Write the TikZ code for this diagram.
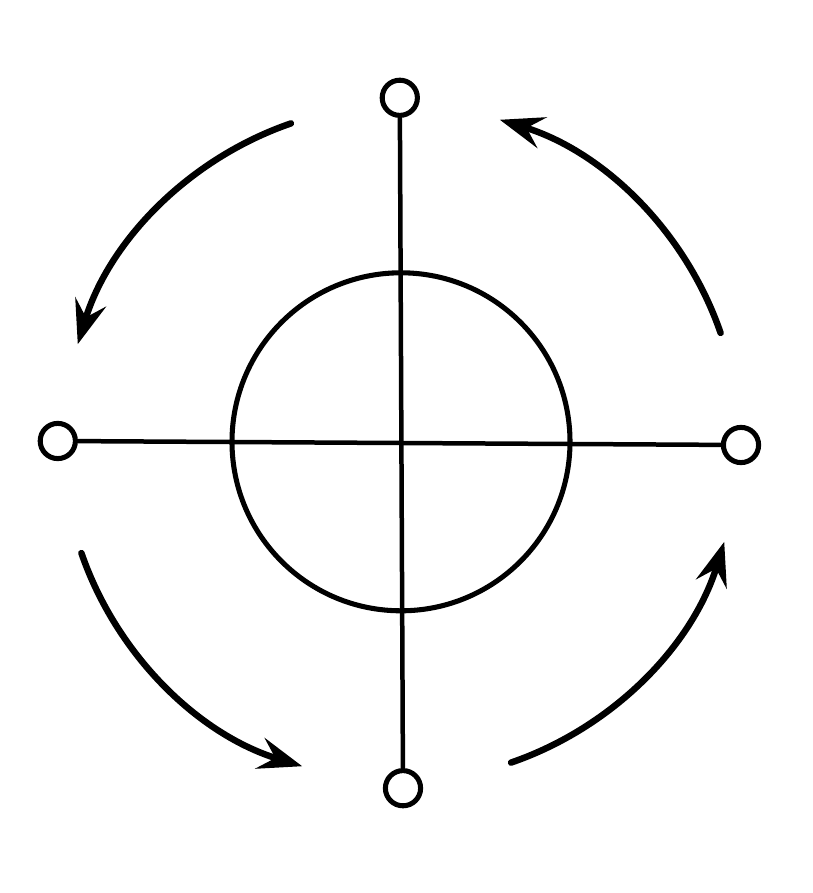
\documentclass[tikz,border=0pt]{standalone}
\usetikzlibrary{arrows.meta}
\tikzset{
  sketch/.style={
    line cap=round,
    line join=round
  },
  spoke/.style={sketch, line width=3.2pt, draw=black},
  hub/.style={circle, line width=3.6pt, draw=black, minimum size=8.45cm, inner sep=0pt},
  pin/.style={circle, line width=3.6pt, draw=black, fill=white, minimum size=0.88cm, inner sep=0pt},
  turn/.style={sketch, line width=4.6pt, -{Stealth[length=11mm, width=8mm, inset=4mm]}}
}

\begin{document}
\begin{tikzpicture}[sketch]
  \useasboundingbox (-10.025,-11.25) rectangle (10.275,11.075);

  % --- Parameters ---
  \def\rA{8.45}      % Turn arrow radius

  % --- Hub ---
  \node[hub] (hub) at (0,0.03) {};

  % --- Pins ---
  \node[pin] (top)   at (-0.03,8.63) {};
  \node[pin] (left)  at (-8.58,0.05) {};
  \node[pin] (right) at (8.5,-0.05) {};
  \node[pin] (bot)   at (0.05,-8.63) {};

  % --- Spokes ---
  \draw[spoke] (top) -- (bot);
  \draw[spoke] (left) -- (right);

  % --- Turn arrows (counterclockwise) ---
  \foreach \k in {0,1,2,3} {
    \pgfmathsetmacro{\aS}{90*\k + 19}
    \pgfmathsetmacro{\aE}{90*\k + 73}
    \draw[turn] (\aS:\rA) arc[start angle=\aS, end angle=\aE, radius=\rA];
  }
\end{tikzpicture}
\end{document}
